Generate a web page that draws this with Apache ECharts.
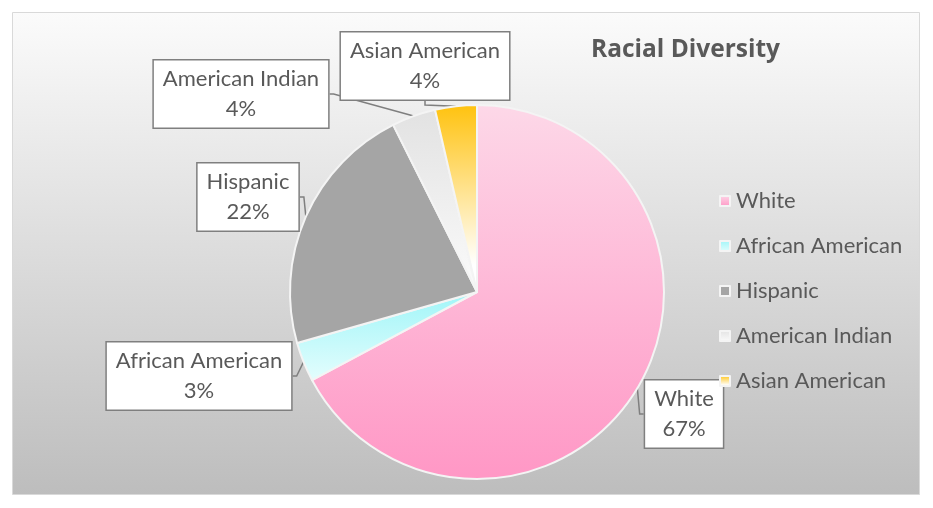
<!DOCTYPE html>
<html lang="en">

<head>
    <meta charset="UTF-8">
    <title>Racial Diversity</title>
    <script src="https://cdn.jsdelivr.net/npm/echarts@6/dist/echarts.min.js"></script>
    <style>
        html, body { margin: 0; padding: 0; background: #ffffff; }
        #PieChart { width: 933px; height: 508px; }
    </style>
</head>

<body onload="setup()">
    <div id="PieChart"></div>
    <script>
        // values (share of total)
        var categories = ['White', 'African American', 'Hispanic', 'American Indian', 'Asian American']
        var values = [67.2, 3.4, 22.0, 3.8, 3.6]

        // slice fills: top colour -> bottom colour
        var topColors = ['#fdd8e8', '#9ff5f8', '#a5a5a5', '#e2e2e2', '#ffc20e']
        var bottomColors = ['#ff97c5', '#e4fdfd', '#a5a5a5', '#fbfbfb', '#ffffff']

        // callout box centres (pixels)
        var labelSpots = [[684, 414], [199, 376], [248, 197], [241, 94], [425, 66]]

        var PieChart
        var fontName = 'Lato, "Liberation Sans", sans-serif'

        function grad(c1, c2, stop) {
            return new echarts.graphic.LinearGradient(0, 0, 0, 1, [
                { offset: 0, color: c1 },
                { offset: stop, color: c2 },
                { offset: 1, color: c2 }
            ])
        }

        function setup() {
            PieChart = echarts.init(document.getElementById('PieChart'), null, { renderer: 'canvas' })

            let pieData = []
            categories.forEach((c, i) => {
                pieData.push({
                    name: c,
                    value: values[i],
                    itemStyle: { color: grad(topColors[i], bottomColors[i], i == 4 ? 0.85 : 1) }
                })
            })

            let option = {
                animation: false,
                graphic: [{
                    type: 'rect',
                    z: -10,
                    shape: { x: 12.5, y: 12.5, width: 907, height: 482 },
                    style: {
                        fill: new echarts.graphic.LinearGradient(0, 0, 0, 1, [
                            { offset: 0, color: '#fbfbfb' },
                            { offset: 1, color: '#bdbdbd' }
                        ]),
                        stroke: '#d9d9d9',
                        lineWidth: 1
                    }
                }],
                title: {
                    text: 'Racial Diversity',
                    left: 586,
                    top: 33,
                    textStyle: {
                        fontFamily: '"Open Sans", Lato, sans-serif',
                        fontSize: 24.5,
                        fontWeight: 'bold',
                        color: '#595959'
                    }
                },
                legend: {
                    orient: 'vertical',
                    left: 714,
                    top: 184,
                    itemWidth: 10,
                    itemHeight: 10,
                    itemGap: 21,
                    icon: 'rect',
                    data: categories,
                    textStyle: {
                        fontFamily: fontName,
                        fontSize: 22,
                        lineHeight: 24,
                        color: '#595959',
                        padding: [0, 0, 0, 1]
                    }
                },
                series: [{
                    type: 'pie',
                    center: [477, 292],
                    radius: 187,
                    startAngle: 90,
                    clockwise: true,
                    data: pieData,
                    itemStyle: { borderColor: '#f4f4f4', borderWidth: 2 },
                    label: {
                        show: true,
                        formatter: function (p) {
                            return p.name + '\n' + Math.round(p.percent) + '%'
                        },
                        fontFamily: fontName,
                        fontSize: 22,
                        lineHeight: 30,
                        color: '#595959',
                        align: 'center',
                        backgroundColor: '#ffffff',
                        borderColor: '#7f7f7f',
                        borderWidth: 1.5,
                        padding: [4, 9, 3, 9]
                    },
                    labelLine: {
                        show: true,
                        length: 8,
                        length2: 4,
                        lineStyle: { color: '#7f7f7f', width: 1.5 }
                    },
                    labelLayout: function (p) {
                        let s = labelSpots[p.dataIndex]
                        return { x: s[0], y: s[1], align: 'center', verticalAlign: 'middle' }
                    },
                    emphasis: { disabled: true }
                }]
            }
            PieChart.setOption(option, true)
        }
    </script>
</body>

</html>
